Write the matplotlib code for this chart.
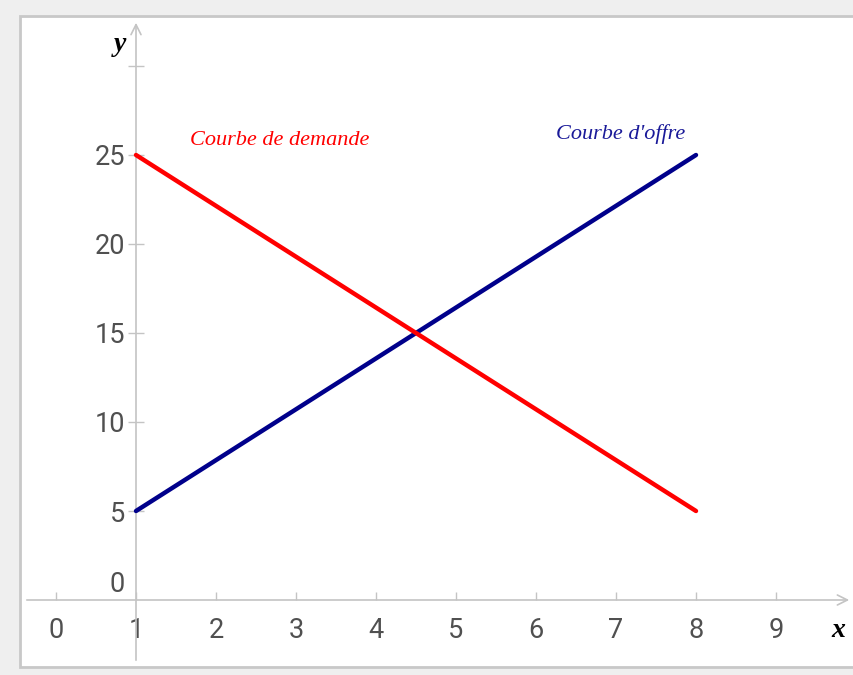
import matplotlib
matplotlib.use("Agg")
import matplotlib.pyplot as plt
from matplotlib.patches import Rectangle
from matplotlib.transforms import offset_copy

# data
quantity = [1, 8]
demand = [25, 5]
supply = [5, 25]
x_ticks = [0, 1, 2, 3, 4, 5, 6, 7, 8, 9]
y_ticks = [5, 10, 15, 20, 25, 30]
y_labels = ["5", "10", "15", "20", "25", ""]

W, H = 854, 675
fig = plt.figure(figsize=(W / 100, H / 100), dpi=100, facecolor="#efefef")

# white panel with grey frame
fig.patches.append(Rectangle((20 / W, 8 / H), 1 - 20 / W, (667 - 16) / H,
                             transform=fig.transFigure, facecolor="white",
                             edgecolor="#c8c8c8", linewidth=2, zorder=-10))

# axes box chosen so that x=0 -> px 56, 80 px/unit ; y=0 -> px 600, 17.8 px/unit
left, right, top, bottom = 24, 852, 20, 663
ax = fig.add_axes([left / W, 1 - bottom / H, (right - left) / W, (bottom - top) / H])
ax.set_facecolor("none")
ax.set_xlim((left - 56) / 80, (right - 56) / 80)
ax.set_ylim((600 - bottom) / 17.8, (600 - top) / 17.8)

ax.spines["left"].set_position(("data", 1))
ax.spines["bottom"].set_position(("data", 0))
for s in ax.spines.values():
    s.set_color("none")

axcol = "#c4c4c4"
ax.annotate("", xy=(1.0, 0), xytext=(0.0, 0), xycoords=ax.get_yaxis_transform(),
            arrowprops=dict(arrowstyle="->", color=axcol, lw=1.2, mutation_scale=18))
ax.annotate("", xy=(1, 1.0), xytext=(1, 0.0), xycoords=ax.get_xaxis_transform(),
            arrowprops=dict(arrowstyle="->", color=axcol, lw=1.2, mutation_scale=18))

tick_font = dict(family="Roboto", weight="normal", size=19.5, color="#505050")
ax.set_xticks(x_ticks)
ax.set_xticklabels([str(v) for v in x_ticks], **tick_font)
ax.set_yticks(y_ticks)
ax.set_yticklabels(y_labels, **tick_font)
ax.tick_params(axis="x", direction="in", length=6, width=1, color=axcol, pad=12)
ax.tick_params(axis="y", direction="inout", length=12, width=1, color=axcol, pad=2)
ax.text(1, 0, "0", transform=offset_copy(ax.transData, fig=fig, x=-11, y=16, units="dots"),
        ha="right", va="center", **tick_font)

ax.plot(quantity, supply, color="#00008b", lw=3.2, solid_capstyle="round", zorder=3)
ax.plot(quantity, demand, color="#ff0000", lw=3.2, solid_capstyle="round", zorder=4)

ax.text(1.675, 25.8, "Courbe de demande", color="#ff0000", fontsize=16,
        family="Liberation Serif", style="italic", va="center", ha="left")
ax.text(6.25, 26.2, "Courbe d'offre", color="#1a1a99", fontsize=16,
        family="Liberation Serif", style="italic", va="center", ha="left")

ax.text(0.8, 31.2, "y", fontsize=20, family="Liberation Serif", style="italic",
        weight="bold", ha="center", va="center")
ax.text(9.78, -1.7, "x", fontsize=20, family="Liberation Serif", style="italic",
        weight="bold", ha="center", va="center")

fig.savefig("out.png", dpi=100, facecolor=fig.get_facecolor())
